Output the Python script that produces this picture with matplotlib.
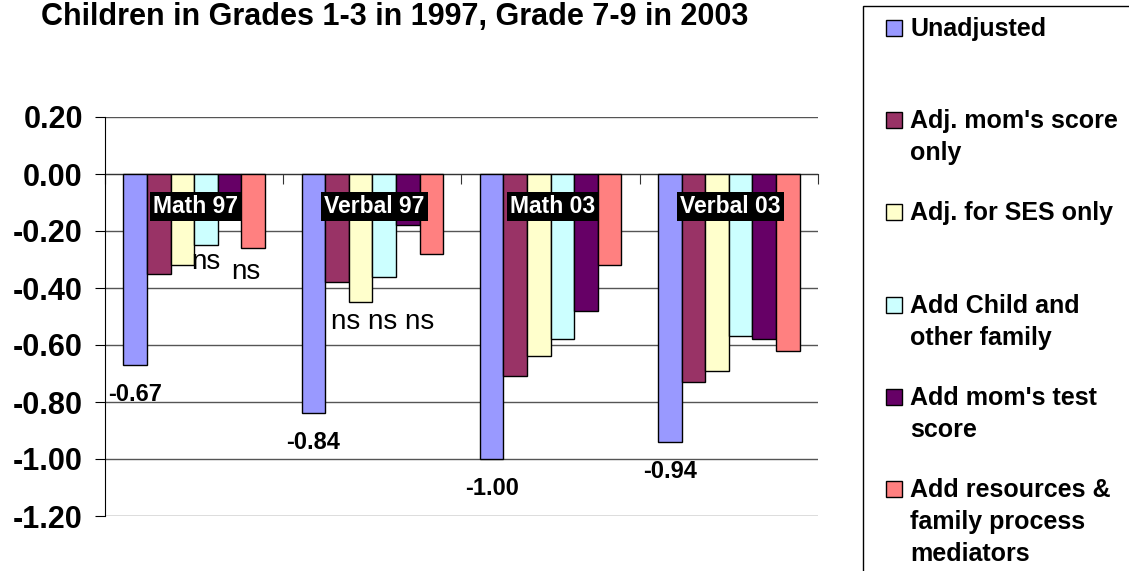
import matplotlib.pyplot as plt
import numpy as np
from matplotlib.patches import Rectangle

plt.rcParams['font.family'] = ['Liberation Sans', 'DejaVu Sans']

W, H = 1129, 571

title = "Children in Grades 1-3 in 1997, Grade 7-9 in 2003"
categories = ["Math 97", "Verbal 97", "Math 03", "Verbal 03"]
series = [
    "Unadjusted",
    "Adj. mom's score\nonly",
    "Adj. for SES only",
    "Add Child and\nother family",
    "Add mom's test\nscore",
    "Add resources &\nfamily process\nmediators",
]
colors = ['#9999FF', '#993366', '#FFFFCC', '#CCFFFF', '#660066', '#FF8080']

unadjusted = [-0.67, -0.84, -1.00, -0.94]
adj_mom = [-0.35, -0.38, -0.71, -0.73]
adj_ses = [-0.32, -0.45, -0.64, -0.69]
add_child = [-0.25, -0.36, -0.58, -0.57]
add_mom_test = [-0.14, -0.18, -0.48, -0.58]
add_resources = [-0.26, -0.28, -0.32, -0.62]
values = [unadjusted, adj_mom, adj_ses, add_child, add_mom_test, add_resources]

yticks = [0.2, 0.0, -0.2, -0.4, -0.6, -0.8, -1.0, -1.2]
ytick_labels = ["0.20", "0.00", "-0.20", "-0.40", "-0.60", "-0.80", "-1.00", "-1.20"]

# hand-placed "ns" notes (x in category units, y in data units)
ns_notes = [("ns", 0.065, -0.31), ("ns", 0.29, -0.345), ("ns ns ns", 1.06, -0.52)]

fig = plt.figure(figsize=(W / 100, H / 100), dpi=100)
ax = fig.add_axes([105 / W, 55 / H, 713 / W, 399 / H])

x = np.arange(len(categories))
group_w = 0.794
bw = group_w / len(series)
for i, (vals, c) in enumerate(zip(values, colors)):
    pos = x - group_w / 2 + bw * (i + 0.5)
    ax.bar(pos, vals, bw, color=c, edgecolor='black', linewidth=1, zorder=3)

# value labels under the unadjusted bars
for xi, v in zip(x, unadjusted):
    pos = xi - group_w / 2 + bw * 0.5
    ax.annotate(f"{v:.2f}", (pos, v), xytext=(0, -13), textcoords='offset points',
                ha='center', va='top', fontsize=17, fontweight='bold', zorder=5)

# category names in black boxes
for xi, name in zip(x, categories):
    ax.text(xi + 0.01, -0.115, name, ha='center', va='center', color='white',
            fontsize=16.5, fontweight='bold', zorder=6,
            bbox=dict(facecolor='black', edgecolor='none', boxstyle='square,pad=0.14'))

for txt, nx, ny in ns_notes:
    ax.text(nx, ny, txt, ha='center', va='center', fontsize=20, zorder=5)

ax.set_xlim(-0.5, len(categories) - 0.5)
ax.set_ylim(-1.2, 0.2)
ax.set_yticks(yticks)
ax.set_yticklabels(ytick_labels, fontsize=22, fontweight='bold')
ax.yaxis.grid(True, color='#555555', linewidth=1, zorder=0)
ax.set_axisbelow(True)

ax.spines['top'].set_visible(False)
ax.spines['right'].set_visible(False)
ax.spines['left'].set_color('black')
ax.spines['bottom'].set_position(('data', 0))
ax.spines['bottom'].set_color('#333333')
ax.spines['bottom'].set_zorder(2)
ax.set_xticks(np.arange(-0.5, len(categories), 1.0))
ax.set_xticklabels([])
ax.tick_params(axis='x', direction='out', length=7, color='#333333')
ax.tick_params(axis='y', direction='out', length=7, pad=9)

fig.text(394.5 / W, (H - 25) / H, title, ha='center', va='baseline',
         fontsize=22, fontweight='bold')

# legend drawn by hand: fixed slots, text top-aligned
fig.add_artist(Rectangle((863 / W, -0.05), 0.5, (H - 6) / H + 0.05,
                         transform=fig.transFigure, facecolor='white',
                         edgecolor='black', linewidth=1))
slot = 92.2
for i, (lab, c) in enumerate(zip(series, colors)):
    cy = 28 + slot * i
    fig.add_artist(Rectangle((886 / W, (H - cy - 8) / H), 16 / W, 16 / H,
                             transform=fig.transFigure, facecolor=c,
                             edgecolor='black', linewidth=1))
    fig.text(910 / W, (H - cy + 11) / H, lab, ha='left', va='top',
             fontsize=18, fontweight='bold', linespacing=1.42)

fig.savefig('out.png', dpi=100)
